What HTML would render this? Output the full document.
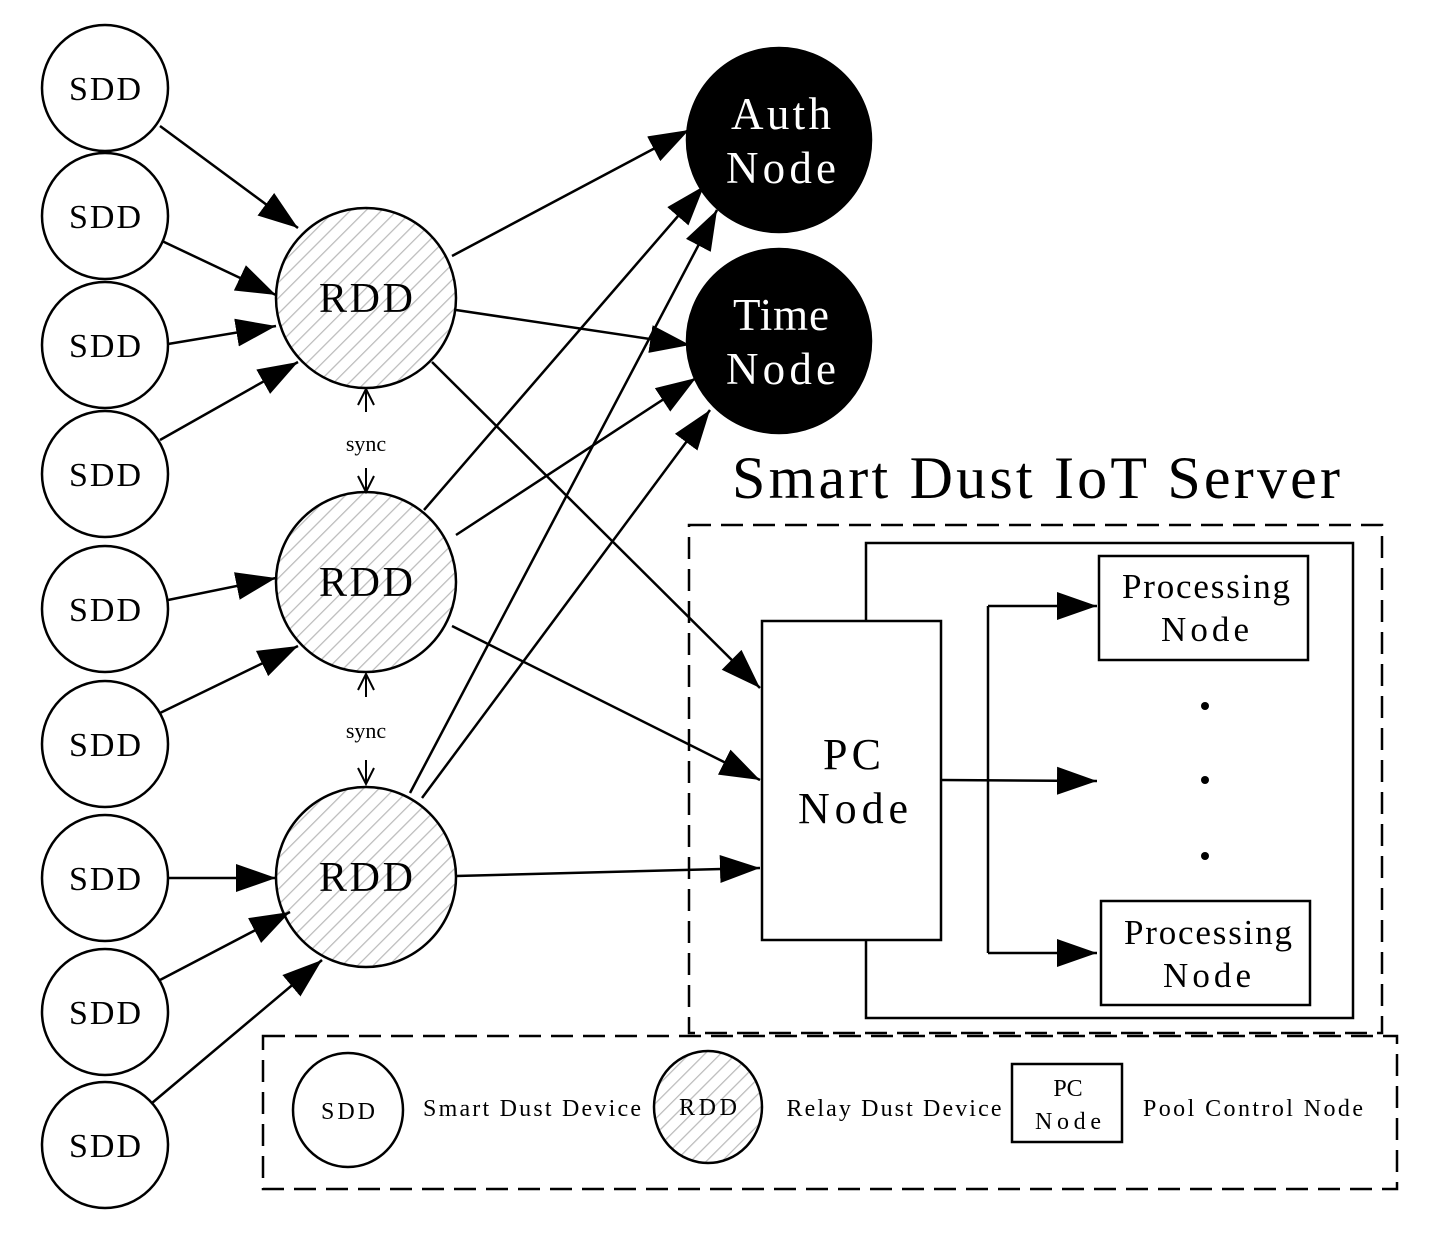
<!DOCTYPE html>
<html><head><meta charset="utf-8"><style>html,body{margin:0;padding:0;background:#fff}svg{display:block}text{font-family:"Liberation Serif",serif}</style></head><body>
<svg width="1434" height="1242" viewBox="0 0 1434 1242" xmlns="http://www.w3.org/2000/svg">
<defs>
<pattern id="h" patternUnits="userSpaceOnUse" width="11" height="11" patternTransform="rotate(45)">
<rect width="11" height="11" fill="#fff"/><line x1="0" y1="0" x2="0" y2="11" stroke="#bbb" stroke-width="2.5"/></pattern>
<marker id="a" markerUnits="userSpaceOnUse" markerWidth="42" markerHeight="30" refX="40" refY="14" orient="auto"><path d="M0,0 L40,14 L0,28 Z" fill="#000"/></marker>
<marker id="o" markerUnits="userSpaceOnUse" markerWidth="20" markerHeight="20" refX="18" refY="9" orient="auto"><path d="M2,1 L18,9 L2,17" fill="none" stroke="#000" stroke-width="2"/></marker>
</defs>
<g stroke="#000" stroke-width="2.5" fill="#fff">
<circle cx="105" cy="88" r="63"/><circle cx="105" cy="216" r="63"/><circle cx="105" cy="345" r="63"/>
<circle cx="105" cy="474" r="63"/><circle cx="105" cy="609" r="63"/><circle cx="105" cy="744" r="63"/>
<circle cx="105" cy="878" r="63"/><circle cx="105" cy="1012" r="63"/><circle cx="105" cy="1145" r="63"/>
<circle cx="366" cy="298" r="90" fill="url(#h)"/><circle cx="366" cy="582" r="90" fill="url(#h)"/><circle cx="366" cy="877" r="90" fill="url(#h)"/>
<circle cx="779" cy="140" r="92" fill="#000"/><circle cx="779" cy="341" r="92" fill="#000"/>
<rect x="689" y="525" width="693" height="508" fill="none" stroke-dasharray="22,10"/>
<rect x="866" y="543" width="487" height="475"/>
<rect x="762" y="621" width="179" height="319"/>
<rect x="1099" y="556" width="209" height="104"/>
<rect x="1101" y="901" width="209" height="104"/>
<rect x="263" y="1036" width="1134" height="153" fill="none" stroke-dasharray="22,10"/>
<ellipse cx="348" cy="1110" rx="55" ry="57"/>
<ellipse cx="708" cy="1107" rx="54" ry="56" fill="url(#h)"/>
<rect x="1012" y="1064" width="110" height="78"/>
</g>
<g stroke="#000" stroke-width="2.5" fill="none" marker-end="url(#a)">
<line x1="160" y1="126" x2="298" y2="228"/>
<line x1="162" y1="241" x2="276" y2="295"/>
<line x1="168" y1="344" x2="276" y2="326"/>
<line x1="160" y1="440" x2="298" y2="362"/>
<line x1="168" y1="600" x2="276" y2="578"/>
<line x1="160" y1="713" x2="298" y2="646"/>
<line x1="168" y1="878" x2="276" y2="878"/>
<line x1="160" y1="980" x2="290" y2="912"/>
<line x1="152" y1="1103" x2="322" y2="960"/>
<line x1="452" y1="256" x2="689" y2="130"/>
<line x1="456" y1="310" x2="690" y2="345"/>
<line x1="432" y1="362" x2="760" y2="688"/>
<line x1="424" y1="510" x2="704" y2="186"/>
<line x1="410" y1="793" x2="717" y2="210"/>
<line x1="456" y1="535" x2="696" y2="378"/>
<line x1="422" y1="798" x2="710" y2="410"/>
<line x1="452" y1="626" x2="760" y2="780"/>
<line x1="456" y1="876" x2="760" y2="868"/>
<line x1="941" y1="780" x2="1097" y2="781"/>
<line x1="988" y1="606" x2="1097" y2="606"/>
<line x1="988" y1="953" x2="1097" y2="953"/>
</g>
<line x1="988" y1="606" x2="988" y2="953" stroke="#000" stroke-width="2.5"/>
<g stroke="#000" stroke-width="2" marker-end="url(#o)">
<line x1="366" y1="412" x2="366" y2="389"/><line x1="366" y1="468" x2="366" y2="492"/>
<line x1="366" y1="697" x2="366" y2="674"/><line x1="366" y1="760" x2="366" y2="784"/>
</g>
<g fill="#000" text-anchor="middle" lengthAdjust="spacingAndGlyphs">
<circle cx="1205" cy="706" r="4"/><circle cx="1205" cy="780" r="4"/><circle cx="1205" cy="856" r="4"/>
<g font-size="34"><text x="105" y="100" textLength="72">SDD</text><text x="105" y="228" textLength="72">SDD</text><text x="105" y="357" textLength="72">SDD</text><text x="105" y="486" textLength="72">SDD</text><text x="105" y="621" textLength="72">SDD</text><text x="105" y="756" textLength="72">SDD</text><text x="105" y="890" textLength="72">SDD</text><text x="105" y="1024" textLength="72">SDD</text><text x="105" y="1157" textLength="72">SDD</text></g>
<g font-size="42"><text x="366" y="312" textLength="94">RDD</text><text x="366" y="596" textLength="94">RDD</text><text x="366" y="891" textLength="94">RDD</text></g>
<g font-size="22"><text x="366" y="451">sync</text><text x="366" y="738">sync</text></g>
<g font-size="45" fill="#fff"><text x="781" y="129" textLength="100">Auth</text><text x="781" y="183" textLength="110">Node</text><text x="781" y="330" textLength="96">Time</text><text x="781" y="384" textLength="110">Node</text></g>
<text x="1036" y="498" font-size="60" textLength="608">Smart Dust IoT Server</text>
<g font-size="44"><text x="852" y="769" textLength="58">PC</text><text x="853" y="823" textLength="110">Node</text></g>
<g font-size="35"><text x="1206" y="598" textLength="168">Processing</text><text x="1205" y="641" textLength="88">Node</text><text x="1208" y="944" textLength="168">Processing</text><text x="1207" y="987" textLength="88">Node</text></g>
<g font-size="24"><text x="348" y="1119" textLength="54">SDD</text><text x="708" y="1115" textLength="58">RDD</text><text x="1068" y="1096">PC</text><text x="1068" y="1129" textLength="66">Node</text>
<text x="532" y="1116" textLength="218">Smart Dust Device</text><text x="894" y="1116" textLength="215">Relay Dust Device</text><text x="1253" y="1116" textLength="220">Pool Control Node</text></g>
</g>
</svg>
</body></html>
